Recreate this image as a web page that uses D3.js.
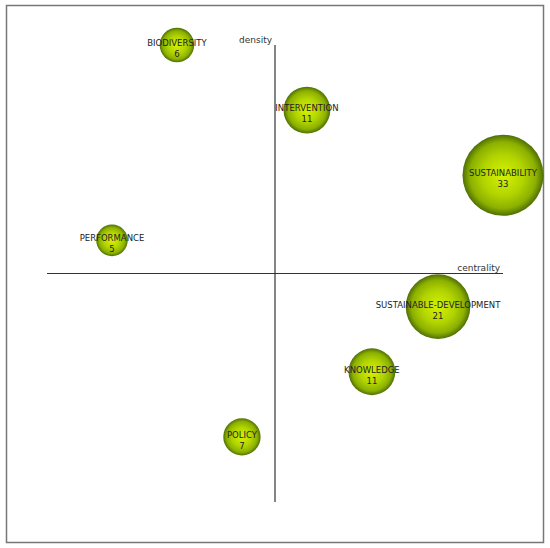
<!DOCTYPE html>
<html><head><meta charset="utf-8">
<script src="https://cdn.jsdelivr.net/npm/d3@7"></script>
<style>body{margin:0;background:#fff}</style>
</head><body>
<script>
const themes = ["BIODIVERSITY","INTERVENTION","SUSTAINABILITY","PERFORMANCE","SUSTAINABLE-DEVELOPMENT","KNOWLEDGE","POLICY"];
const centrality = [-0.43, 0.14, 1.0, -0.715, 0.715, 0.425, -0.145];
const density = [1.0, 0.715, 0.43, 0.145, -0.145, -0.43, -0.715];
const docCount = [6, 11, 33, 5, 21, 11, 7];

const W = 550, H = 548;
const svg = d3.select("body").append("svg").attr("width", W).attr("height", H);

const defs = svg.append("defs");
const g = defs.append("radialGradient").attr("id","ball").attr("cx","50%").attr("cy","50%").attr("r","50%");
g.append("stop").attr("offset","0%").attr("stop-color","#d6f200");
g.append("stop").attr("offset","50%").attr("stop-color","#b2d500");
g.append("stop").attr("offset","82%").attr("stop-color","#8cb000");
g.append("stop").attr("offset","100%").attr("stop-color","#4f6f04");

svg.append("rect").attr("x",6.5).attr("y",5.5).attr("width",537).attr("height",537)
  .attr("fill","none").attr("stroke","#777").attr("stroke-width",1.5);

const x = d3.scaleLinear().domain([-1,1]).range([47,503]);
const y = d3.scaleLinear().domain([-1,1]).range([502,45]);
const r = d3.scaleSqrt().domain([0,33]).range([0,40.5]);

// axes
svg.append("line").attr("x1",x(-1)).attr("x2",x(1)).attr("y1",y(0)).attr("y2",y(0))
  .attr("stroke","#333").attr("stroke-width",1.2);
svg.append("line").attr("x1",x(0)).attr("x2",x(0)).attr("y1",y(1)).attr("y2",y(-1))
  .attr("stroke","#333").attr("stroke-width",1.2);

const font = "'DejaVu Sans', Verdana, sans-serif";
svg.append("text").attr("x",x(0)-3).attr("y",y(1)-2).attr("text-anchor","end")
  .attr("font-family",font).attr("font-size",9).attr("fill","#333").text("density");
svg.append("text").attr("x",x(1)-3).attr("y",y(0)-3).attr("text-anchor","end")
  .attr("font-family",font).attr("font-size",9).attr("fill","#333").text("centrality");

const data = themes.map((t,i)=>({t, c:centrality[i], d:density[i], n:docCount[i]}));
const nodes = svg.selectAll("g.node").data(data).join("g").attr("class","node")
  .attr("transform", d=>`translate(${x(d.c)},${y(d.d)})`);
nodes.append("circle").attr("r", d=>r(d.n)).attr("fill","url(#ball)");
nodes.append("text").attr("y",1).attr("text-anchor","middle")
  .attr("font-family",font).attr("font-size",8.5).attr("fill","#222").text(d=>d.t);
nodes.append("text").attr("y",12).attr("text-anchor","middle")
  .attr("font-family",font).attr("font-size",8.5).attr("fill","#222").text(d=>d.n);
</script>
</body></html>
